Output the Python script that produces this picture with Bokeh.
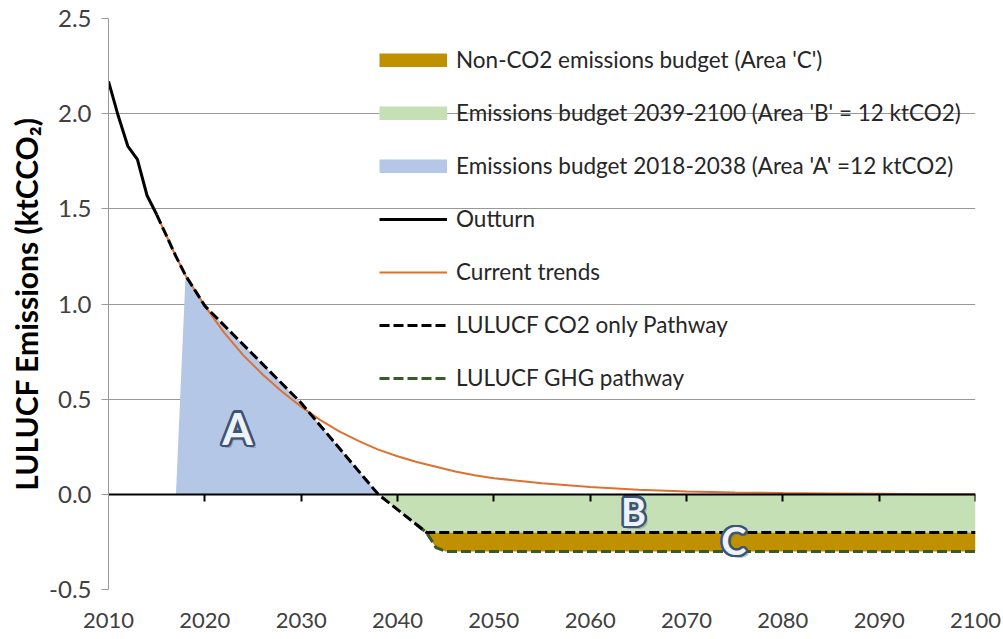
import math
from bokeh.plotting import figure
from bokeh.models import (Range1d, LinearAxis, FixedTicker, Legend, LegendItem,
                          PrintfTickFormatter, ColumnDataSource)
from bokeh.core.properties import value
from bokeh.embed import file_html
from bokeh.resources import INLINE

# ---------------- data ----------------
outturn_years = [2010, 2011, 2012, 2013, 2014, 2015]
outturn_vals = [2.17, 1.99, 1.83, 1.76, 1.57, 1.47]

trend_years = [2015, 2016, 2017, 2018, 2019, 2020, 2022, 2024, 2026, 2028, 2030,
               2032, 2034, 2036, 2038, 2040, 2042, 2044, 2046, 2048, 2050, 2055,
               2060, 2065, 2070, 2075, 2080, 2085, 2090, 2095, 2100]
trend_vals = [1.47, 1.36, 1.25, 1.15, 1.07, 0.99, 0.85, 0.73, 0.63, 0.54, 0.46,
              0.39, 0.33, 0.28, 0.235, 0.20, 0.17, 0.145, 0.12, 0.10, 0.085, 0.058,
              0.038, 0.024, 0.015, 0.010, 0.007, 0.005, 0.003, 0.001, 0.0]

co2_years = [2015, 2016, 2017, 2018, 2019, 2020, 2030, 2038, 2043, 2100]
co2_vals = [1.47, 1.36, 1.25, 1.15, 1.07, 0.99, 0.48, 0.0, -0.2, -0.2]

ghg_years = [2042, 2043, 2044, 2045, 2100]
ghg_vals = [-0.16, -0.2, -0.28, -0.3, -0.3]

area_a_years = [2017, 2018, 2019, 2020, 2030, 2038]
area_a_vals = [0.0, 1.15, 1.07, 0.99, 0.48, 0.0]

area_b_years = [2038, 2043, 2100]
area_b_vals = [0.0, -0.2, -0.2]

area_c_years = [2043, 2044, 2045, 2100]
area_c_top = [-0.2, -0.2, -0.2, -0.2]
area_c_bottom = [-0.2, -0.28, -0.3, -0.3]

y_ticks = [-0.5, 0.0, 0.5, 1.0, 1.5, 2.0, 2.5]
x_ticks = [2010, 2020, 2030, 2040, 2050, 2060, 2070, 2080, 2090, 2100]

labels = ["Non-CO2 emissions budget (Area 'C')",
          "Emissions budget 2039-2100 (Area 'B' = 12 ktCO2)",
          "Emissions budget 2018-2038 (Area 'A' =12 ktCO2)",
          "Outturn", "Current trends", "LULUCF CO2 only Pathway",
          "LULUCF GHG pathway"]

# ---------------- styling ----------------
FONT = "Lato"
GOLD = "#BF9000"
GREEN = "#C5E0B4"
BLUE = "#B4C7E7"
ORANGE = "#DD7230"
DKGREEN = "#3A5A27"
GRID = "#999999"

p = figure(width=1003, height=639, x_range=Range1d(2010, 2100),
           y_range=Range1d(-0.5, 2.5), output_backend="svg",
           toolbar_location=None, min_border_left=108, min_border_right=28,
           min_border_top=18, min_border_bottom=50)
p.outline_line_color = None
p.background_fill_color = "white"
p.border_fill_color = "white"

# grid
p.xgrid.visible = False
p.ygrid.ticker = FixedTicker(ticks=[t for t in y_ticks if t < 2.5])
p.ygrid.grid_line_color = GRID
p.ygrid.grid_line_width = 1

# y axis
ya = p.yaxis[0]
ya.ticker = FixedTicker(ticks=y_ticks)
ya.formatter = PrintfTickFormatter(format="%.1f")
ya.axis_line_color = GRID
ya.major_tick_line_color = GRID
ya.major_tick_out = 7
ya.major_tick_in = 0
ya.minor_tick_line_color = None
ya.major_label_text_font = FONT
ya.major_label_text_font_size = "24px"
ya.major_label_text_color = "#404040"
ya.major_label_standoff = 10
ya.axis_label = "LULUCF Emissions (ktCCO\u2082)"
ya.axis_label_text_font = FONT
ya.axis_label_text_font_style = "bold"
ya.axis_label_text_font_size = "30px"
ya.axis_label_text_color = "#000000"
ya.axis_label_standoff = 2

# x axis (labels only)
xa = p.xaxis[0]
xa.ticker = FixedTicker(ticks=x_ticks)
xa.axis_line_color = None
xa.major_tick_line_color = None
xa.minor_tick_line_color = None
xa.major_label_text_font = FONT
xa.major_label_text_font_size = "22px"
xa.major_label_text_color = "#404040"
xa.major_label_standoff = 17

# zero line axis with downward ticks
zero_ticks = x_ticks[1:]
zero_axis = LinearAxis(fixed_location=0, ticker=FixedTicker(ticks=zero_ticks),
                       axis_line_color="black", axis_line_width=2,
                       major_tick_line_color="black", major_tick_line_width=2,
                       major_tick_in=7, major_tick_out=0,
                       minor_tick_line_color=None,
                       major_label_overrides={t: "" for t in zero_ticks},
                       major_label_standoff=0)
p.add_layout(zero_axis, "above")

# areas
ra = p.varea(x=area_a_years, y1=[0.0] * len(area_a_years), y2=area_a_vals,
             fill_color=BLUE)
rb = p.varea(x=area_b_years, y1=[0.0] * len(area_b_years), y2=area_b_vals,
             fill_color=GREEN)
rc = p.varea(x=area_c_years, y1=area_c_top, y2=area_c_bottom, fill_color=GOLD)

# lines
r_trend = p.line(trend_years, trend_vals, line_color=ORANGE, line_width=2)
r_ghg = p.line(ghg_years, ghg_vals, line_color=DKGREEN, line_width=3,
               line_dash="10 4")
r_co2 = p.line(co2_years, co2_vals, line_color="black", line_width=3,
               line_dash="10 4")
r_out = p.line(outturn_years, outturn_vals, line_color="black", line_width=3)

# legend swatches for the areas: one-point lines (draw nothing in the plot)
sw_c = p.line(x=area_c_years[:1], y=area_c_top[:1], line_color=GOLD, line_width=14)
sw_b = p.line(x=area_b_years[:1], y=area_b_vals[:1], line_color=GREEN, line_width=14)
sw_a = p.line(x=area_a_years[:1], y=area_a_vals[:1], line_color=BLUE, line_width=14)

# area letters with outline
def letter(ch, x, y, size):
    src = ColumnDataSource(dict(x=[x], y=[y], t=[ch]))
    common = dict(text="t", text_font=value(FONT), text_font_size=size,
                  text_align="center", text_baseline="middle",
                  text_font_style="bold")
    p.text(x="x", y="y", source=src, x_offset=3, y_offset=3,
           text_color="#6b7a90", text_alpha=0.45, **common)
    for k in range(16):
        ang = 2 * math.pi * k / 16
        p.text(x="x", y="y", source=src, x_offset=2.4 * math.cos(ang),
               y_offset=2.4 * math.sin(ang), text_color="#3D5474", **common)
    p.text(x="x", y="y", source=src, text_color="#EEF2F9", **common)

letter("A", 2023.4, 0.35, "44px")
letter("B", 2064.5, -0.085, "38px")
letter("C", 2074.9, -0.24, "38px")

# legend
items = [LegendItem(label=labels[0], renderers=[sw_c]),
         LegendItem(label=labels[1], renderers=[sw_b]),
         LegendItem(label=labels[2], renderers=[sw_a]),
         LegendItem(label=labels[3], renderers=[r_out]),
         LegendItem(label=labels[4], renderers=[r_trend]),
         LegendItem(label=labels[5], renderers=[r_co2]),
         LegendItem(label=labels[6], renderers=[r_ghg])]
legend = Legend(items=items, location=(271, 198), orientation="vertical",
                padding=0, margin=0, spacing=26, label_height=20,
                glyph_height=14, glyph_width=68, label_standoff=9,
                label_text_font=FONT, label_text_font_size="22.5px",
                label_text_color="#262626", background_fill_alpha=0,
                border_line_alpha=0)
p.add_layout(legend)

open("out.html", "w").write(file_html(p, INLINE))
